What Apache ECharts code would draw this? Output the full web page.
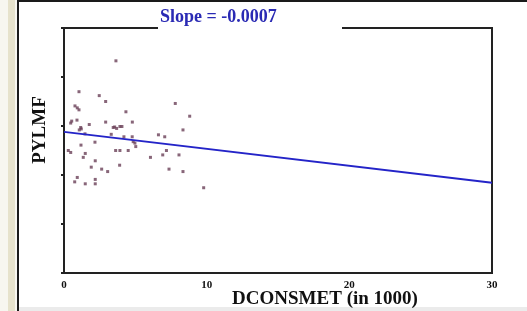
<!DOCTYPE html>
<html>
<head>
<meta charset="utf-8">
<script src="https://cdn.jsdelivr.net/npm/echarts@6/dist/echarts.min.js"></script>
<style>
  html, body { margin: 0; padding: 0; background: #fff; }
  #main { width: 527px; height: 311px; }
</style>
</head>
<body>
<div id="main"></div>
<script>
// scatter points, DCONSMET (in 1000) vs PYLMF (no y scale shown)
var xVals = [3.64, 1.05, 2.47, 2.92, 7.80, 0.77, 0.93, 1.05, 4.34, 8.81,
  0.91, 0.47, 1.77, 2.92, 4.79, 1.17, 1.07, 3.55, 3.69, 3.92,
  4.06, 8.34, 1.47, 3.31, 6.62, 7.06, 4.20, 4.78, 2.17, 4.85,
  4.97, 1.19, 5.03, 0.30, 0.47, 3.62, 3.92, 4.50, 7.18, 1.49,
  6.92, 8.06, 1.35, 6.06, 2.19, 3.90, 1.91, 2.64, 3.06, 7.36,
  8.34, 0.93, 0.75, 2.19, 2.19, 1.49, 9.79, 0.54, 1.21, 3.45];
var yVals = [4.33, 3.70, 3.62, 3.50, 3.46, 3.41, 3.37, 3.33, 3.29, 3.20,
  3.12, 3.06, 3.03, 3.08, 3.08, 2.97, 2.92, 2.98, 2.95, 2.99,
  2.99, 2.92, 2.84, 2.83, 2.82, 2.78, 2.78, 2.78, 2.67, 2.68,
  2.65, 2.61, 2.58, 2.50, 2.46, 2.50, 2.50, 2.50, 2.50, 2.44,
  2.41, 2.41, 2.36, 2.36, 2.29, 2.20, 2.16, 2.12, 2.07, 2.12,
  2.07, 1.95, 1.86, 1.91, 1.82, 1.82, 1.74, 3.10, 2.94, 2.97];
// fitted line end points
var fitX = [0, 30];
var fitY = [2.88, 1.84];
var xTicks = [0, 10, 20, 30];
var titleText = 'Slope = -0.0007';
var xName = 'DCONSMET (in 1000)';
var yName = 'PYLMF';

var points = xVals.map(function (x, i) { return [x, yVals[i]]; });
var fitLine = fitX.map(function (x, i) { return [x, fitY[i]]; });

var chart = echarts.init(document.getElementById('main'), null, { renderer: 'canvas' });

var serif = '"Liberation Serif", "DejaVu Serif", serif';

chart.setOption({
  animation: false,
  backgroundColor: '#fff',
  grid: {
    left: 64, right: 35, top: 28, bottom: 38,
    show: true,
    borderColor: '#222',
    borderWidth: 2,
    backgroundColor: 'transparent'
  },
  xAxis: {
    type: 'value',
    min: 0, max: 30, interval: 10,
    axisLine: { lineStyle: { color: '#222', width: 2 } },
    axisTick: { show: false },
    splitLine: { show: false },
    axisLabel: {
      color: '#111', fontFamily: serif, fontWeight: 'bold', fontSize: 11, margin: 7,
      formatter: function (v) { return xTicks.indexOf(v) >= 0 ? String(v) : ''; }
    }
  },
  yAxis: {
    type: 'value',
    min: 0, max: 5, interval: 1,
    axisLine: { lineStyle: { color: '#222', width: 2 } },
    axisTick: { show: true, length: 3, lineStyle: { color: '#222', width: 2 } },
    splitLine: { show: false },
    axisLabel: { show: false }
  },
  series: [
    {
      type: 'scatter',
      data: points,
      symbol: 'rect',
      symbolSize: 3,
      itemStyle: { color: '#6a4058' },
      z: 3
    },
    {
      type: 'line',
      data: fitLine,
      symbol: 'none',
      lineStyle: { color: '#2424c8', width: 2 },
      z: 4
    }
  ],
  graphic: [
    // window frame bits
    { type: 'rect', shape: { x: 0, y: 0, width: 17, height: 311 }, style: { fill: '#f7f6f0' }, z: 10 },
    { type: 'rect', shape: { x: 8, y: 0, width: 7, height: 311 }, style: { fill: '#e6e2cc' }, z: 11 },
    { type: 'rect', shape: { x: 17, y: 0, width: 2, height: 311 }, style: { fill: '#1a1a1a' }, z: 12 },
    { type: 'rect', shape: { x: 17, y: 0, width: 510, height: 2 }, style: { fill: '#1a1a1a' }, z: 12 },
    { type: 'rect', shape: { x: 19, y: 307, width: 508, height: 4 }, style: { fill: '#ebebeb' }, z: 12 },
    // title gap in top border
    { type: 'rect', shape: { x: 158, y: 22, width: 184, height: 12 }, style: { fill: '#fff' }, z: 20 },
    {
      type: 'text', left: 160, top: 8, z: 21,
      style: { text: titleText, fill: '#2a2ab4', font: 'bold 18px ' + serif }
    },
    {
      type: 'text', x: 325, y: 299, z: 21,
      style: { text: xName, fill: '#111', font: 'bold 19px ' + serif, align: 'center', verticalAlign: 'middle' }
    },
    {
      type: 'text', x: 40, y: 130, rotation: Math.PI / 2, z: 21,
      style: { text: yName, fill: '#111', font: 'bold 19px ' + serif, align: 'center', verticalAlign: 'middle' }
    }
  ]
});
</script>
</body>
</html>
